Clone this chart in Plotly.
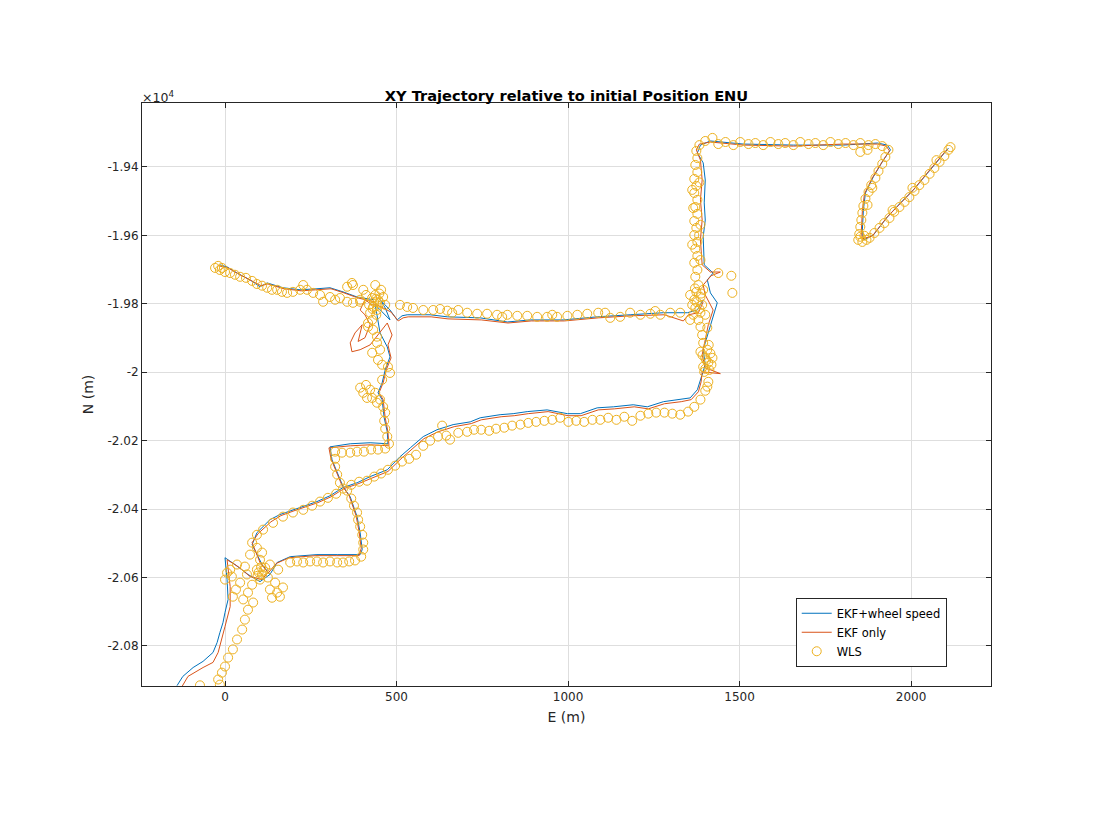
import plotly.graph_objects as go

# ---------------- data (E, N in metres) ----------------
# EKF + wheel speed (blue) : three drawn strokes
ekfw_stroke1 = [(-140,-20916),(-123,-20889),(-93,-20863),(-64,-20845),(-35,-20819),(-23,-20790),(-15,-20761),(-6,-20732),
    (0,-20702),(9,-20664),(6,-20606),(0,-20542),(29,-20562),(67,-20591),(102,-20612),(131,-20591),(108,-20562),(79,-20504),
    (93,-20469),(131,-20431),(160,-20416),(198,-20402),(228,-20393),(268,-20378),(306,-20361),(344,-20337),(385,-20323),
    (423,-20305),(473,-20285),(510,-20247),(540,-20221),(578,-20188),(618,-20168),(665,-20153),(715,-20145),(744,-20133),
    (802,-20124),(840,-20121),(881,-20115),(939,-20110),(998,-20121),(1036,-20121),(1085,-20104),(1132,-20101),(1190,-20095),
    (1231,-20101),(1278,-20086),(1327,-20080),(1356,-20075),(1377,-20051),(1386,-20022),(1394,-19999),(1400,-19978),
    (1394,-19934),(1406,-19896),(1421,-19847),(1435,-19797),(1415,-19768),(1406,-19730),(1423,-19710),(1397,-19686),
    (1394,-19604),(1400,-19555),(1397,-19505),(1400,-19438),(1394,-19388),(1377,-19359),(1386,-19336),(1415,-19324),
    (1511,-19333),(1657,-19336),(1803,-19336),(1902,-19330),(1931,-19336),(1940,-19350),(1919,-19380),(1890,-19429),
    (1867,-19476),(1861,-19526),(1858,-19584),(1861,-19613),(1890,-19599),(1931,-19546),(1969,-19505),(2007,-19467),
    (2048,-19418),(2086,-19371),(2109,-19345)]
ekfw_stroke2 = [(131,-20591),(152,-20556),(190,-20539),(268,-20533),(327,-20533),(394,-20533),(400,-20518),(394,-20469),
    (385,-20422),(365,-20364),(344,-20334),(327,-20294),(312,-20256),(306,-20218),(365,-20209),(423,-20206),(475,-20209),
    (473,-20174),(464,-20133),(458,-20080),(446,-20060),(458,-20031),(467,-19993),(481,-19955),(473,-19926),(452,-19885),
    (443,-19832),(438,-19803),(481,-19847),(467,-19812),(452,-19788),(481,-19818),(502,-19847),(516,-19835),(531,-19832),
    (598,-19832),(648,-19838),(744,-19841),(823,-19853),(890,-19847),(986,-19847),(1085,-19838),(1181,-19832),(1278,-19826),
    (1348,-19826),(1377,-19818),(1394,-19788)]
ekfw_stroke3 = [(-15,-19686),(6,-19692),(35,-19710),(73,-19730),(102,-19750),(123,-19739),(169,-19753),(219,-19759),
    (268,-19756),(306,-19753),(344,-19765),(385,-19780),(432,-19788)]

# EKF only (orange)
ekf_stroke1 = [(-125,-20918),(-108,-20889),(-64,-20863),(-35,-20848),(-20,-20819),(-9,-20781),(0,-20743),(15,-20685),
    (15,-20626),(6,-20548),(38,-20568),(73,-20597),(108,-20606),(125,-20585),(102,-20556),(79,-20498),(96,-20472),
    (134,-20437),(163,-20419),(201,-20405),(230,-20396),(271,-20381),(309,-20364),(347,-20340),(388,-20326),(426,-20311),
    (475,-20290),(513,-20253),(543,-20226),(580,-20194),(621,-20174),(668,-20159),(718,-20150),(747,-20139),(805,-20130),
    (843,-20127),(884,-20121),(942,-20115),(1000,-20127),(1038,-20127),(1088,-20110),(1135,-20107),(1193,-20101),
    (1234,-20107),(1281,-20092),(1330,-20086),(1359,-20080),(1380,-20057),(1388,-20028),(1391,-19999),(1444,-20004),
    (1400,-19987),(1391,-19949),(1400,-19905),(1409,-19861),(1423,-19818),(1400,-19774),(1394,-19745),(1417,-19718),
    (1444,-19707),(1415,-19707),(1391,-19686),(1386,-19613),(1391,-19555),(1386,-19496),(1391,-19438),(1386,-19380),
    (1374,-19350),(1383,-19333),(1415,-19327),(1511,-19336),(1657,-19339),(1803,-19333),(1902,-19333),(1928,-19339),
    (1937,-19353),(1917,-19383),(1887,-19432),(1864,-19479),(1858,-19528),(1855,-19587),(1858,-19610),(1887,-19602),
    (1928,-19549),(1966,-19508),(2004,-19470),(2045,-19420),(2083,-19374),(2106,-19347)]
ekf_stroke2 = [(125,-20588),(149,-20559),(187,-20542),(265,-20536),(324,-20536),(391,-20536),(397,-20515),(391,-20466),
    (382,-20419),(362,-20361),(341,-20331),(324,-20291),(309,-20253),(303,-20221),(365,-20215),(423,-20212),(478,-20215),
    (475,-20174),(467,-20133),(461,-20080),(449,-20060),(461,-20031),(470,-19993),(484,-19958),(475,-19920),(487,-19891),
    (473,-19856),(423,-19920),(394,-19934),(370,-19940),(365,-19914),(379,-19885),(400,-19861),(388,-19910),(408,-19899),
    (423,-19861),(408,-19832),(394,-19818),(408,-19788),(429,-19803),(443,-19803),(484,-19824),(505,-19850),(519,-19841),
    (534,-19838),(601,-19838),(650,-19844),(747,-19847),(825,-19856),(893,-19850),(989,-19850),(1088,-19841),(1184,-19835),
    (1281,-19832),(1336,-19850),(1351,-19832),(1380,-19826),(1394,-19794)]
ekf_stroke3 = [(-18,-19689),(9,-19695),(38,-19712),(76,-19733),(105,-19747),(125,-19742),(172,-19756),(222,-19762),
    (271,-19759),(309,-19756),(347,-19768),(388,-19783),(435,-19794)]

# WLS fixes
wls_points = [
    (-73,-20915),(-15,-20913),(-20,-20898),(-9,-20878),(0,-20860),(9,-20834),(23,-20810),(35,-20781),(50,-20752),(58,-20723),
    (67,-20694),(53,-20664),(82,-20673),(67,-20644),(44,-20615),(20,-20597),(6,-20586),(0,-20606),(15,-20577),(35,-20562),
    (58,-20568),(23,-20656),(32,-20635),
    (93,-20577),(108,-20591),(117,-20571),(102,-20606),(125,-20600),(131,-20635),(152,-20644),(146,-20615),(160,-20656),
    (169,-20629),(137,-20659),(79,-20498),(108,-20527),(93,-20513),(73,-20533),(102,-20548),(131,-20562),(155,-20577),
    (64,-20591),(79,-20621),(98,-20585),(112,-20580),(105,-20570),(95,-20595),
    (93,-20475),(111,-20460),(140,-20440),(169,-20422),(198,-20410),(228,-20402),(254,-20390),(277,-20378),(300,-20367),
    (324,-20355),(344,-20340),(368,-20329),(391,-20320),(414,-20317),(435,-20305),(455,-20296),(475,-20285),(496,-20273),
    (516,-20261),(537,-20253),(557,-20241),
    (578,-20215),(598,-20200),(621,-20188),(645,-20185),(656,-20197),(633,-20156),(680,-20177),(706,-20174),(726,-20168),
    (747,-20168),(770,-20171),(790,-20165),(814,-20162),(837,-20156),(861,-20153),(884,-20148),(907,-20145),(931,-20142),
    (954,-20139),(977,-20133),(1001,-20145),(1024,-20142),(1047,-20145),(1071,-20139),(1094,-20139),(1117,-20133),
    (1141,-20139),(1164,-20130),(1187,-20142),(1211,-20127),(1234,-20121),(1257,-20118),(1281,-20118),(1304,-20121),
    (1327,-20124),(1350,-20115),(1368,-20101),(1386,-20080),(1400,-20054),(1409,-20028),(1406,-20042),
    (1394,-19984),(1409,-19972),(1421,-19958),(1400,-19958),(1386,-19940),(1406,-19934),(1418,-19978),(1397,-19999),
    (1412,-19993),(1394,-19914),(1391,-19891),(1406,-19870),(1386,-19867),(1403,-19965),(1392,-19950),(1415,-19945),
    (1400,-19990),(1410,-19920),
    (1380,-19847),(1365,-19832),(1386,-19826),(1371,-19812),(1391,-19803),(1368,-19788),(1386,-19780),(1374,-19765),
    (1394,-19759),(1380,-19745),(1362,-19803),(1400,-19832),(1356,-19774),(1375,-19795),(1383,-19815),(1370,-19755),
    (1388,-19770),
    (1438,-19710),(1476,-19718),(1479,-19768),
    (1371,-19721),(1377,-19701),(1368,-19680),(1377,-19660),(1371,-19639),(1377,-19619),(1368,-19599),(1374,-19578),
    (1368,-19558),(1377,-19537),(1371,-19517),(1377,-19496),(1368,-19476),(1374,-19455),(1368,-19435),(1377,-19415),
    (1371,-19394),(1377,-19374),(1374,-19353),(1383,-19336),(1400,-19324),(1386,-19672),(1362,-19627),(1386,-19569),
    (1362,-19467),(1383,-19445),(1365,-19520),(1382,-19600),
    (1421,-19315),(1438,-19333),(1459,-19327),(1482,-19336),(1502,-19327),(1526,-19333),(1546,-19330),(1569,-19336),
    (1590,-19327),(1613,-19333),(1633,-19330),(1657,-19336),(1677,-19327),(1701,-19333),(1721,-19330),(1744,-19336),
    (1765,-19327),(1788,-19333),(1809,-19330),(1832,-19336),(1852,-19330),(1876,-19336),(1896,-19333),(1916,-19339),
    (1934,-19350),(1852,-19356),(1873,-19350),
    (1925,-19371),(1916,-19391),(1905,-19412),(1896,-19432),(1884,-19453),(1876,-19473),(1867,-19493),(1861,-19514),
    (1858,-19534),(1855,-19555),(1852,-19575),(1849,-19596),(1846,-19613),(1858,-19619),(1864,-19601),(1852,-19604),
    (1870,-19613),(1887,-19461),(1873,-19511),
    (1879,-19607),(1893,-19593),(1908,-19578),(1922,-19564),(1937,-19549),(1951,-19531),(1966,-19517),(1981,-19502),
    (1995,-19488),(2010,-19470),(2024,-19453),(2039,-19438),(2054,-19420),(2068,-19403),(2083,-19385),(2097,-19368),
    (2109,-19350),(2115,-19342),(1946,-19526),(2004,-19461),(2074,-19380),
    (510,-19803),(531,-19809),(548,-19812),(578,-19818),(607,-19818),(627,-19815),(648,-19820),(680,-19818),(706,-19826),
    (735,-19829),(764,-19829),(793,-19832),(823,-19832),(852,-19835),(881,-19835),(910,-19838),(939,-19838),(968,-19838),
    (998,-19835),(1027,-19832),(1056,-19829),(1088,-19826),(1123,-19841),(1152,-19838),(1181,-19826),(1211,-19832),
    (1240,-19829),(1269,-19832),(1298,-19826),(1327,-19826),(1356,-19847),(662,-19826),(808,-19838),(954,-19832),
    (1108,-19826),(1254,-19821),
    (190,-20556),(210,-20553),(228,-20556),(248,-20553),(268,-20553),(286,-20556),(306,-20553),(327,-20556),(344,-20556),
    (362,-20553),(379,-20550),(397,-20539),(403,-20518),(403,-20498),(400,-20475),(394,-20451),(388,-20431),(385,-20410),
    (376,-20390),(368,-20369),(356,-20346),(335,-20323),(327,-20299),(321,-20276),(321,-20253),(321,-20232),(341,-20235),
    (365,-20235),(385,-20232),(405,-20232),(426,-20226),(446,-20226),(467,-20223),(478,-20209),(473,-20188),(467,-20165),
    (464,-20142),(467,-20118),(461,-20101),
    (452,-20080),(443,-20089),(429,-20075),(414,-20075),(403,-20060),(394,-20045),(423,-20051),(438,-20060),(411,-20037),
    (458,-20022),(481,-20002),(475,-19984),(458,-19978),(446,-19964),(429,-19943),(452,-19934),(443,-19914),(443,-19896),
    (432,-19876),(417,-19867),
    (429,-19783),(438,-19774),(446,-19788),(432,-19809),(423,-19826),(429,-19847),(417,-19856),(443,-19818),(452,-19797),
    (461,-19780),(394,-19794),(403,-19759),(373,-19745),(441,-19832),(420,-19803),(411,-19774),(455,-19759),(467,-19803),
    (438,-19745),(435,-19795),(445,-19805),(440,-19785),(430,-19815),(450,-19770),
    (-29,-19695),(-15,-19701),(0,-19707),(15,-19710),(29,-19715),(44,-19721),(61,-19724),(79,-19733),(93,-19742),
    (108,-19747),(123,-19753),(137,-19759),(152,-19759),(166,-19765),(181,-19768),(198,-19765),(219,-19759),(228,-19745),
    (239,-19759),(257,-19768),(277,-19774),(286,-19794),(306,-19780),(321,-19788),(335,-19783),(356,-19750),(370,-19739),
    (356,-19794),(373,-19797),(394,-19788),(-20,-19689),(-9,-19695)]

x_ticks = [0, 500, 1000, 1500, 2000]
y_ticks = [-19400, -19600, -19800, -20000, -20200, -20400, -20600, -20800]
y_tick_labels = ['-1.94', '-1.96', '-1.98', '-2', '-2.02', '-2.04', '-2.06', '-2.08']


def join(*strokes):
    xs, ys = [], []
    for i, s in enumerate(strokes):
        if i:
            xs.append(None)
            ys.append(None)
        xs += [p[0] for p in s]
        ys += [p[1] for p in s]
    return xs, ys


bx, by = join(ekfw_stroke1, ekfw_stroke2, ekfw_stroke3)
ox, oy = join(ekf_stroke1, ekf_stroke2, ekf_stroke3)
wx, wy = join(wls_points)

fig = go.Figure()
fig.add_trace(go.Scatter(x=bx, y=by, mode='lines', name='EKF+wheel speed',
                         line=dict(color='#0072BD', width=1)))
fig.add_trace(go.Scatter(x=ox, y=oy, mode='lines', name='EKF only',
                         line=dict(color='#D95319', width=1)))
fig.add_trace(go.Scatter(x=wx, y=wy, mode='markers', name='WLS',
                         marker=dict(symbol='circle-open', size=9, color='#EDB120',
                                     line=dict(width=1, color='#EDB120'))))

axis_common = dict(showgrid=True, gridcolor='#dedede', gridwidth=1, zeroline=False,
                   showline=True, linecolor='#262626', linewidth=1, mirror='allticks',
                   ticks='inside', ticklen=5, tickcolor='#262626', tickwidth=1,
                   tickfont=dict(size=12, color='#262626'))

fig.update_layout(
    width=1096, height=824,
    margin=dict(l=142, r=105, t=103, b=138),
    paper_bgcolor='white', plot_bgcolor='white',
    font=dict(family='DejaVu Sans', size=12, color='#262626'),
    title=dict(text='<b>XY Trajectory relative to initial Position ENU</b>',
               x=0.5, xref='paper', xanchor='center',
               y=1 - 96 / 824, yref='container', yanchor='middle',
               font=dict(size=14.6, color='black')),
    xaxis=dict(range=[-242, 2233], tickvals=x_ticks,
               title=dict(text='E (m)', font=dict(size=14), standoff=8), **axis_common),
    yaxis=dict(range=[-20917, -19213], tickvals=y_ticks, ticktext=y_tick_labels,
               title=dict(text='N (m)', font=dict(size=14), standoff=10), **axis_common),
    legend=dict(x=0.770, y=0.033, xanchor='left', yanchor='bottom',
                bgcolor='white', bordercolor='#262626', borderwidth=1,
                font=dict(size=11.5, color='black'), tracegroupgap=0),
    showlegend=True,
    annotations=[dict(text='×10<sup>4</sup>', xref='paper', yref='paper', x=0, y=1,
                      xanchor='left', yanchor='bottom', showarrow=False,
                      font=dict(size=12.5, color='#262626'), yshift=-4, xshift=-2)],
)

fig.write_html('out.html')
